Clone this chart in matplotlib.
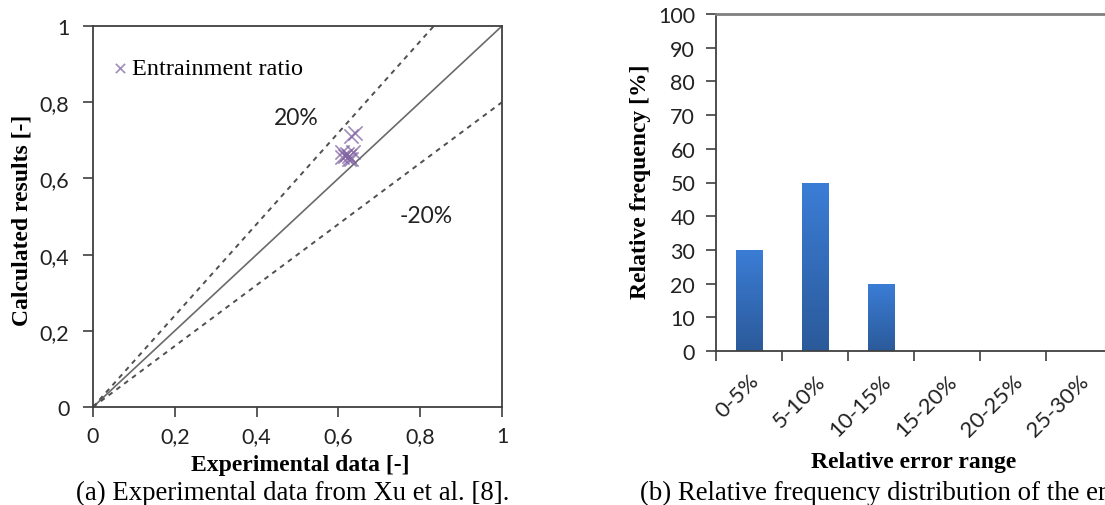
import matplotlib
matplotlib.use('Agg')
from matplotlib import pyplot as plt
import numpy as np

W, H = 1105, 506

# (a) experimental vs calculated entrainment ratio
exp_data = [0.630, 0.640, 0.610, 0.620, 0.635, 0.610, 0.625, 0.625, 0.615, 0.630]
calc_data = [0.710, 0.720, 0.670, 0.665, 0.670, 0.655, 0.650, 0.660, 0.660, 0.650]
ref_x = [0, 1]
x_ticks_a = [0, 0.2, 0.4, 0.6, 0.8, 1]
tick_labels_a = ['0', '0,2', '0,4', '0,6', '0,8', '1']

# (b) relative frequency distribution
ranges = ['0-5%', '5-10%', '10-15%', '15-20%', '20-25%', '25-30%']
freq = [30, 50, 20, 0, 0, 0]

sans = ['Lato', 'DejaVu Sans']
serif = ['Liberation Serif', 'DejaVu Serif']
axis_col = '#404040'
txt_col = '#222222'

fig = plt.figure(figsize=(W / 100, H / 100), dpi=100)

# ---------- left chart ----------
ax1 = fig.add_axes([93 / W, 98 / H, 409 / W, 381 / H])
ax1.plot(ref_x, ref_x, color='#6a6a6a', lw=1.2)
ax1.plot(ref_x, [v * 1.2 for v in ref_x], color='#505050', lw=1.4, ls=(0, (2.5, 2.5)))
ax1.plot(ref_x, [v * 0.8 for v in ref_x], color='#505050', lw=1.4, ls=(0, (2.5, 2.5)))
ax1.scatter(exp_data, calc_data, marker='x', s=105, color='#8064A2', alpha=0.75,
            linewidths=1.2, label='Entrainment ratio', zorder=3)
ax1.set_xlim(0, 1)
ax1.set_ylim(0, 1)
ax1.set_xticks(x_ticks_a)
ax1.set_xticklabels(tick_labels_a)
ax1.set_yticks(x_ticks_a)
ax1.set_yticklabels(tick_labels_a)
for lab in ax1.get_xticklabels() + ax1.get_yticklabels():
    lab.set_family(sans)
    lab.set_fontsize(15.5)
    lab.set_color(txt_col)
ax1.tick_params(direction='out', length=7, width=1.2, color=axis_col, pad=7)
ax1.tick_params(axis='y', pad=10)
for sp in ax1.spines.values():
    sp.set_color(axis_col)
    sp.set_linewidth(1.3)
ax1.text(0.496, 0.761, '20%', family=sans, fontsize=16.5, ha='center', va='center', color=txt_col)
ax1.text(0.815, 0.502, '-20%', family=sans, fontsize=16.5, ha='center', va='center', color=txt_col)
ax1.legend(loc='upper left', bbox_to_anchor=(-0.012, 0.975), frameon=False, handletextpad=0.1,
           handlelength=0.8, markerscale=0.65, prop={'family': serif, 'size': 17.5})
ax1.set_xlabel('Experimental data [-]', family=serif, fontweight='bold', fontsize=17)
ax1.set_ylabel('Calculated results [-]', family=serif, fontweight='bold', fontsize=17)
ax1.xaxis.set_label_coords(0.506, -0.123)
ax1.yaxis.set_label_coords(-0.149, 0.493)

# ---------- right chart ----------
ax2 = fig.add_axes([716 / W, 154 / H, 396 / W, 337 / H])
pos = list(range(len(ranges)))
bars = ax2.bar(pos, freq, width=0.4, color='#3571C2', edgecolor='#2B5FA6', linewidth=0.5, zorder=2)
grad = np.linspace(1, 0, 64).reshape(-1, 1)
cmap = matplotlib.colors.LinearSegmentedColormap.from_list('xl', ['#2B5A9A', '#3B7DD6'])
for b in bars:
    if b.get_height() <= 0:
        continue
    im = ax2.imshow(grad, cmap=cmap, aspect='auto', zorder=2.5,
                    extent=(b.get_x(), b.get_x() + b.get_width(), 0, b.get_height()))
    im.set_clip_path(b)
ax2.set_xlim(-0.5, len(ranges) - 0.5)
ax2.set_ylim(0, 100)
ax2.set_yticks(range(0, 101, 10))
ax2.set_xticks([p - 0.5 for p in pos], minor=False)
ax2.set_xticklabels([])
ax2.set_xticks(pos, minor=True)
ax2.set_xticklabels(ranges, minor=True, rotation=45, ha='right', rotation_mode='anchor',
                    family=sans, fontsize=16, color=txt_col)
ax2.tick_params(axis='x', which='minor', length=0, pad=14)
ax2.tick_params(axis='x', which='major', direction='out', length=7, width=1.2, color=axis_col)
ax2.tick_params(axis='y', direction='out', length=7, width=1.2, color=axis_col, pad=8)
for lab in ax2.get_yticklabels():
    lab.set_family(sans)
    lab.set_fontsize(15.5)
    lab.set_color(txt_col)
ax2.spines['right'].set_visible(False)
ax2.spines['top'].set_color('#7f7f7f')
ax2.spines['top'].set_linewidth(2)
ax2.spines['left'].set_color(axis_col)
ax2.spines['bottom'].set_color(axis_col)
ax2.spines['left'].set_linewidth(1.3)
ax2.spines['bottom'].set_linewidth(1.3)
ax2.set_xlabel('Relative error range', family=serif, fontweight='bold', fontsize=17)
ax2.set_ylabel('Relative frequency [%]', family=serif, fontweight='bold', fontsize=17)
ax2.xaxis.set_label_coords(0.5, -0.297)
ax2.yaxis.set_label_coords(-0.164, 0.504)

# captions
fig.text(76 / W, 1 - 493 / H, '(a) Experimental data from Xu et al. [8].', family=serif,
         fontsize=19.3, va='center', ha='left')
fig.text(640 / W, 1 - 493 / H, '(b) Relative frequency distribution of the er', family=serif,
         fontsize=19.3, va='center', ha='left')

fig.savefig('out.png', dpi=100)
